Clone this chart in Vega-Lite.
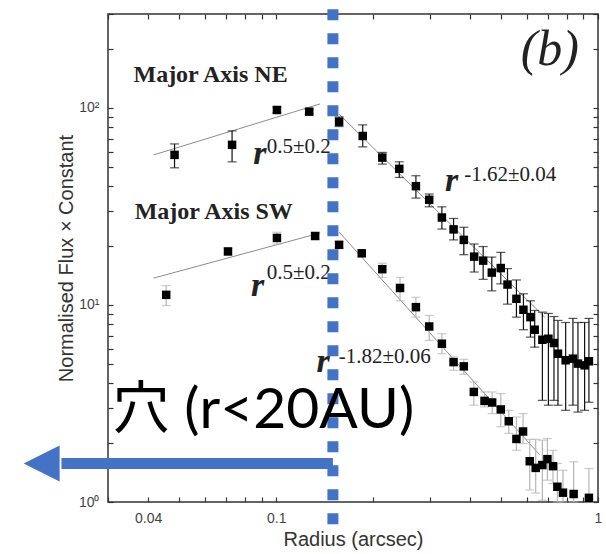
{
  "$schema": "https://vega.github.io/schema/vega-lite/v6.json",
  "width": 490,
  "height": 488,
  "autosize": {"type": "none"},
  "padding": {"left": 108, "top": 14, "right": 8, "bottom": 52},
  "background": "white",
  "config": {
    "view": {"stroke": "#333", "strokeWidth": 1.5},
    "axis": {"grid": false, "domain": false, "tickColor": "#333", "tickWidth": 1.2,
      "labelFont": "Liberation Sans", "labelColor": "#444",
      "titleFont": "Liberation Sans", "titleColor": "#333", "titleFontWeight": "normal"}
  },
  "datasets": {
    "pts": [
      {"series": "NE", "x": 0.0483, "y": 57.8, "lo": 49.7, "hi": 65.7},
      {"series": "NE", "x": 0.0729, "y": 65.0, "lo": 53.3, "hi": 76.5},
      {"series": "NE", "x": 0.1005, "y": 97.7, "lo": 94.5, "hi": 101},
      {"series": "NE", "x": 0.1266, "y": 95.8, "lo": 93, "hi": 98.7},
      {"series": "NE", "x": 0.1568, "y": 85.2, "lo": 80.5, "hi": 90},
      {"series": "NE", "x": 0.1857, "y": 72.1, "lo": 63.5, "hi": 82.0},
      {"series": "NE", "x": 0.2136, "y": 56.0, "lo": 51.9, "hi": 59.5},
      {"series": "NE", "x": 0.2412, "y": 49.1, "lo": 44.4, "hi": 53.3},
      {"series": "NE", "x": 0.2717, "y": 40.1, "lo": 34.9, "hi": 45.3},
      {"series": "NE", "x": 0.2988, "y": 34.2, "lo": 31.5, "hi": 36.6},
      {"series": "NE", "x": 0.3272, "y": 27.8, "lo": 24.3, "hi": 31.5},
      {"series": "NE", "x": 0.3557, "y": 24.2, "lo": 21.4, "hi": 27.5},
      {"series": "NE", "x": 0.3828, "y": 21.4, "lo": 18.0, "hi": 24.8},
      {"series": "NE", "x": 0.4122, "y": 17.6, "lo": 14.7, "hi": 20.4},
      {"series": "NE", "x": 0.4396, "y": 16.8, "lo": 13.5, "hi": 19.8},
      {"series": "NE", "x": 0.4677, "y": 14.6, "lo": 11.8, "hi": 17.5},
      {"series": "NE", "x": 0.4987, "y": 15.4, "lo": 12.8, "hi": 18.5},
      {"series": "NE", "x": 0.5233, "y": 12.7, "lo": 10.1, "hi": 15.3},
      {"series": "NE", "x": 0.5578, "y": 10.75, "lo": 8.68, "hi": 13.4},
      {"series": "NE", "x": 0.5865, "y": 9.46, "lo": 7.49, "hi": 11.4},
      {"series": "NE", "x": 0.6166, "y": 8.68, "lo": 6.87, "hi": 10.5},
      {"series": "NE", "x": 0.6357, "y": 7.49, "lo": 6.11, "hi": 9.38},
      {"series": "NE", "x": 0.6716, "y": 6.66, "lo": 3.28, "hi": 9.2},
      {"series": "NE", "x": 0.7012, "y": 6.74, "lo": 3.10, "hi": 9.06},
      {"series": "NE", "x": 0.7298, "y": 6.41, "lo": 3.28, "hi": 8.74},
      {"series": "NE", "x": 0.751, "y": 5.66, "lo": 3.10, "hi": 8.35},
      {"series": "NE", "x": 0.7934, "y": 5.24, "lo": 2.92, "hi": 8.15},
      {"series": "NE", "x": 0.8358, "y": 5.34, "lo": 3.10, "hi": 8.55},
      {"series": "NE", "x": 0.8663, "y": 5.04, "lo": 2.86, "hi": 8.15},
      {"series": "NE", "x": 0.9086, "y": 4.94, "lo": 2.92, "hi": 8.15},
      {"series": "NE", "x": 0.9371, "y": 5.18, "lo": 3.21, "hi": 8.55},
      {"series": "SW", "x": 0.0455, "y": 11.26, "lo": 9.94, "hi": 12.55},
      {"series": "SW", "x": 0.0708, "y": 18.7, "lo": 18.0, "hi": 19.4},
      {"series": "SW", "x": 0.1005, "y": 21.9, "lo": 20.4, "hi": 23.4},
      {"series": "SW", "x": 0.1321, "y": 22.4, "lo": 21.6, "hi": 23.2},
      {"series": "SW", "x": 0.1568, "y": 20.2, "lo": 19.4, "hi": 21.0},
      {"series": "SW", "x": 0.1844, "y": 18.3, "lo": 17.6, "hi": 19.0},
      {"series": "SW", "x": 0.2136, "y": 15.2, "lo": 13.8, "hi": 16.3},
      {"series": "SW", "x": 0.2425, "y": 12.2, "lo": 10.5, "hi": 13.8},
      {"series": "SW", "x": 0.2717, "y": 9.75, "lo": 8.68, "hi": 10.95},
      {"series": "SW", "x": 0.2988, "y": 7.78, "lo": 6.61, "hi": 8.85},
      {"series": "SW", "x": 0.3272, "y": 6.36, "lo": 5.66, "hi": 7.15},
      {"series": "SW", "x": 0.3557, "y": 5.13, "lo": 4.66, "hi": 5.44},
      {"series": "SW", "x": 0.3828, "y": 4.88, "lo": 4.45, "hi": 5.30},
      {"series": "SW", "x": 0.4112, "y": 3.62, "lo": 3.10, "hi": 4.07},
      {"series": "SW", "x": 0.4439, "y": 3.26, "lo": 3.04, "hi": 3.62},
      {"series": "SW", "x": 0.4689, "y": 3.20, "lo": 2.81, "hi": 3.62},
      {"series": "SW", "x": 0.4987, "y": 2.95, "lo": 2.41, "hi": 3.55},
      {"series": "SW", "x": 0.528, "y": 2.57, "lo": 2.23, "hi": 2.92},
      {"series": "SW", "x": 0.5578, "y": 2.09, "lo": 1.83, "hi": 2.70},
      {"series": "SW", "x": 0.5849, "y": 2.28, "lo": 1.98, "hi": 2.81},
      {"series": "SW", "x": 0.6136, "y": 1.61, "lo": 1.15, "hi": 2.08},
      {"series": "SW", "x": 0.6403, "y": 1.49, "lo": 1.11, "hi": 2.08},
      {"series": "SW", "x": 0.6716, "y": 1.54, "lo": 1.02, "hi": 2.06},
      {"series": "SW", "x": 0.6963, "y": 1.65, "lo": 1.29, "hi": 2.10},
      {"series": "SW", "x": 0.7246, "y": 1.52, "lo": 1.24, "hi": 1.83},
      {"series": "SW", "x": 0.7477, "y": 1.195, "lo": 1.0, "hi": 1.57},
      {"series": "SW", "x": 0.7783, "y": 1.115, "lo": 1.0, "hi": 1.45},
      {"series": "SW", "x": 0.8401, "y": 1.098, "lo": 1.0, "hi": 1.60},
      {"series": "SW", "x": 0.9371, "y": 1.05, "lo": 1.0, "hi": 1.48}
    ],
    "fits": [
      {"seg": "NE-in", "x": 0.0416, "y": 57.8},
      {"seg": "NE-in", "x": 0.1369, "y": 104.9},
      {"seg": "NE-out", "x": 0.157, "y": 92.9},
      {"seg": "NE-out", "x": 0.683, "y": 8.67},
      {"seg": "SW-in", "x": 0.0416, "y": 13.7},
      {"seg": "SW-in", "x": 0.1369, "y": 23.2},
      {"seg": "SW-out", "x": 0.157, "y": 23.4},
      {"seg": "SW-out", "x": 0.659, "y": 1.736}
    ]
  },
  "layer": [
    {
      "data": {"name": "fits"},
      "mark": {"type": "line", "color": "#8c8c8c", "strokeWidth": 1},
      "encoding": {
        "x": {"field": "x", "type": "quantitative",
          "scale": {"type": "log", "domain": [0.03, 1], "nice": false},
          "axis": {"orient": "bottom",
            "values": [0.03, 0.04, 0.05, 0.06, 0.07, 0.08, 0.09, 0.1, 0.2, 0.3, 0.4, 0.5, 0.6, 0.7, 0.8, 0.9, 1],
            "labelExpr": "datum.value == 0.04 ? '0.04' : datum.value == 0.1 ? '0.1' : datum.value == 1 ? '1' : ''",
            "tickSize": -5, "labelPadding": 14, "labelFontSize": 14, "labelFlush": false, "labelOverlap": false,
            "title": "Radius (arcsec)", "titleFontSize": 20, "titlePadding": 4}},
        "y": {"field": "y", "type": "quantitative",
          "scale": {"type": "log", "domain": [1, 300], "nice": false},
          "axis": {"orient": "left",
            "values": [1, 2, 3, 4, 5, 6, 7, 8, 9, 10, 20, 30, 40, 50, 60, 70, 80, 90, 100, 200, 300],
            "labelExpr": "datum.value == 1 ? '10⁰' : datum.value == 10 ? '10¹' : datum.value == 100 ? '10²' : ''",
            "tickSize": -5, "labelPadding": 14, "labelFontSize": 14, "labelOverlap": false, "labelFlush": false,
            "title": "Normalised Flux × Constant", "titleFontSize": 20, "titlePadding": 2}},
        "detail": {"field": "seg"}
      }
    },
    {
      "data": {"name": "pts"},
      "mark": {"type": "rule", "strokeWidth": 1.2},
      "encoding": {
        "x": {"field": "x", "type": "quantitative",
          "axis": {"orient": "top",
            "values": [0.03, 0.04, 0.05, 0.06, 0.07, 0.08, 0.09, 0.1, 0.2, 0.3, 0.4, 0.5, 0.6, 0.7, 0.8, 0.9, 1],
            "labels": false, "tickSize": -5, "title": null}},
        "y": {"field": "lo", "type": "quantitative",
          "axis": {"orient": "right",
            "values": [1, 2, 3, 4, 5, 6, 7, 8, 9, 10, 20, 30, 40, 50, 60, 70, 80, 90, 100, 200, 300],
            "labels": false, "tickSize": -5, "title": null}},
        "y2": {"field": "hi"},
        "color": {"field": "series", "type": "nominal",
          "scale": {"domain": ["NE", "SW"], "range": ["#111111", "#b5b5b5"]}, "legend": null}
      }
    },
    {
      "data": {"name": "pts"},
      "mark": {"type": "tick", "orient": "horizontal", "size": 9, "thickness": 1.2},
      "encoding": {
        "x": {"field": "x", "type": "quantitative", "axis": null},
        "y": {"field": "lo", "type": "quantitative", "axis": null},
        "color": {"field": "series", "type": "nominal",
          "scale": {"domain": ["NE", "SW"], "range": ["#111111", "#b5b5b5"]}, "legend": null}
      }
    },
    {
      "data": {"name": "pts"},
      "mark": {"type": "tick", "orient": "horizontal", "size": 9, "thickness": 1.2},
      "encoding": {
        "x": {"field": "x", "type": "quantitative", "axis": null},
        "y": {"field": "hi", "type": "quantitative", "axis": null},
        "color": {"field": "series", "type": "nominal",
          "scale": {"domain": ["NE", "SW"], "range": ["#111111", "#b5b5b5"]}, "legend": null}
      }
    },
    {
      "data": {"name": "pts"},
      "mark": {"type": "point", "shape": "square", "filled": true, "size": 72, "color": "#000", "opacity": 1},
      "encoding": {
        "x": {"field": "x", "type": "quantitative", "axis": null},
        "y": {"field": "y", "type": "quantitative", "axis": null}
      }
    },
    {
      "data": {"values": [{"t": "Major Axis NE", "x": 0.036, "y": 135.4}, {"t": "Major Axis SW", "x": 0.0363, "y": 27.4}]},
      "mark": {"type": "text", "font": "Liberation Serif", "fontWeight": "bold", "fontSize": 24, "color": "#222", "align": "left", "baseline": "alphabetic"},
      "encoding": {
        "x": {"field": "x", "type": "quantitative", "axis": null},
        "y": {"field": "y", "type": "quantitative", "axis": null},
        "text": {"field": "t"}
      }
    },
    {
      "data": {"values": [
        {"t": "r", "x": 0.0849, "y": 52.1},
        {"t": "r", "x": 0.0835, "y": 11.17},
        {"t": "r", "x": 0.3344, "y": 38.0},
        {"t": "r", "x": 0.1335, "y": 4.55}
      ]},
      "mark": {"type": "text", "font": "Liberation Serif", "fontWeight": "bold", "fontStyle": "italic", "fontSize": 34, "color": "#222", "align": "left", "baseline": "alphabetic"},
      "encoding": {
        "x": {"field": "x", "type": "quantitative", "axis": null},
        "y": {"field": "y", "type": "quantitative", "axis": null},
        "text": {"field": "t"}
      }
    },
    {
      "data": {"values": [
        {"t": "0.5±0.2", "x": 0.0935, "y": 59.2},
        {"t": "0.5±0.2", "x": 0.0935, "y": 13.6},
        {"t": "-1.62±0.04", "x": 0.384, "y": 42.7},
        {"t": "-1.82±0.06", "x": 0.1565, "y": 5.06}
      ]},
      "mark": {"type": "text", "font": "Liberation Serif", "fontSize": 21, "color": "#222", "align": "left", "baseline": "alphabetic"},
      "encoding": {
        "x": {"field": "x", "type": "quantitative", "axis": null},
        "y": {"field": "y", "type": "quantitative", "axis": null},
        "text": {"field": "t"}
      }
    },
    {
      "data": {"values": [{"t": "(b)", "x": 0.575, "y": 165}]},
      "mark": {"type": "text", "font": "Liberation Serif", "fontStyle": "italic", "fontSize": 50, "color": "#222", "align": "left", "baseline": "alphabetic"},
      "encoding": {
        "x": {"field": "x", "type": "quantitative", "axis": null},
        "y": {"field": "y", "type": "quantitative", "axis": null},
        "text": {"field": "t"}
      }
    },
    {
      "data": {"values": [{"x": 0.15, "top": 317, "bottom": 0.72}]},
      "mark": {"type": "rule", "color": "#4472C4", "strokeWidth": 11, "strokeDash": [11, 13], "strokeCap": "butt"},
      "encoding": {
        "x": {"field": "x", "type": "quantitative", "axis": null},
        "y": {"field": "top", "type": "quantitative", "axis": null},
        "y2": {"field": "bottom"}
      }
    },
    {
      "data": {"values": [{"from": 0.15, "to": 0.0215, "y": 1.567}]},
      "mark": {"type": "rule", "color": "#4472C4", "strokeWidth": 11, "strokeCap": "butt"},
      "encoding": {
        "x": {"field": "from", "type": "quantitative", "axis": null},
        "x2": {"field": "to"},
        "y": {"field": "y", "type": "quantitative", "axis": null}
      }
    },
    {
      "data": {"values": [{"x": 0.01866, "y": 1.567}]},
      "mark": {"type": "point", "shape": "M-1,0L1,-1L1,1Z", "filled": true, "size": 1296, "color": "#4472C4", "opacity": 1},
      "encoding": {
        "x": {"field": "x", "type": "quantitative", "axis": null},
        "y": {"field": "y", "type": "quantitative", "axis": null}
      }
    },
    {
      "data": {"values": [{"t": "穴 (r<20AU)", "x": 0.031, "y": 2.37}]},
      "mark": {"type": "text", "font": "Lato, Noto Sans CJK JP", "fontSize": 57, "color": "#000", "align": "left", "baseline": "alphabetic"},
      "encoding": {
        "x": {"field": "x", "type": "quantitative", "axis": null},
        "y": {"field": "y", "type": "quantitative", "axis": null},
        "text": {"field": "t"}
      }
    }
  ],
  "resolve": {"axis": {"x": "independent", "y": "independent"}}
}
